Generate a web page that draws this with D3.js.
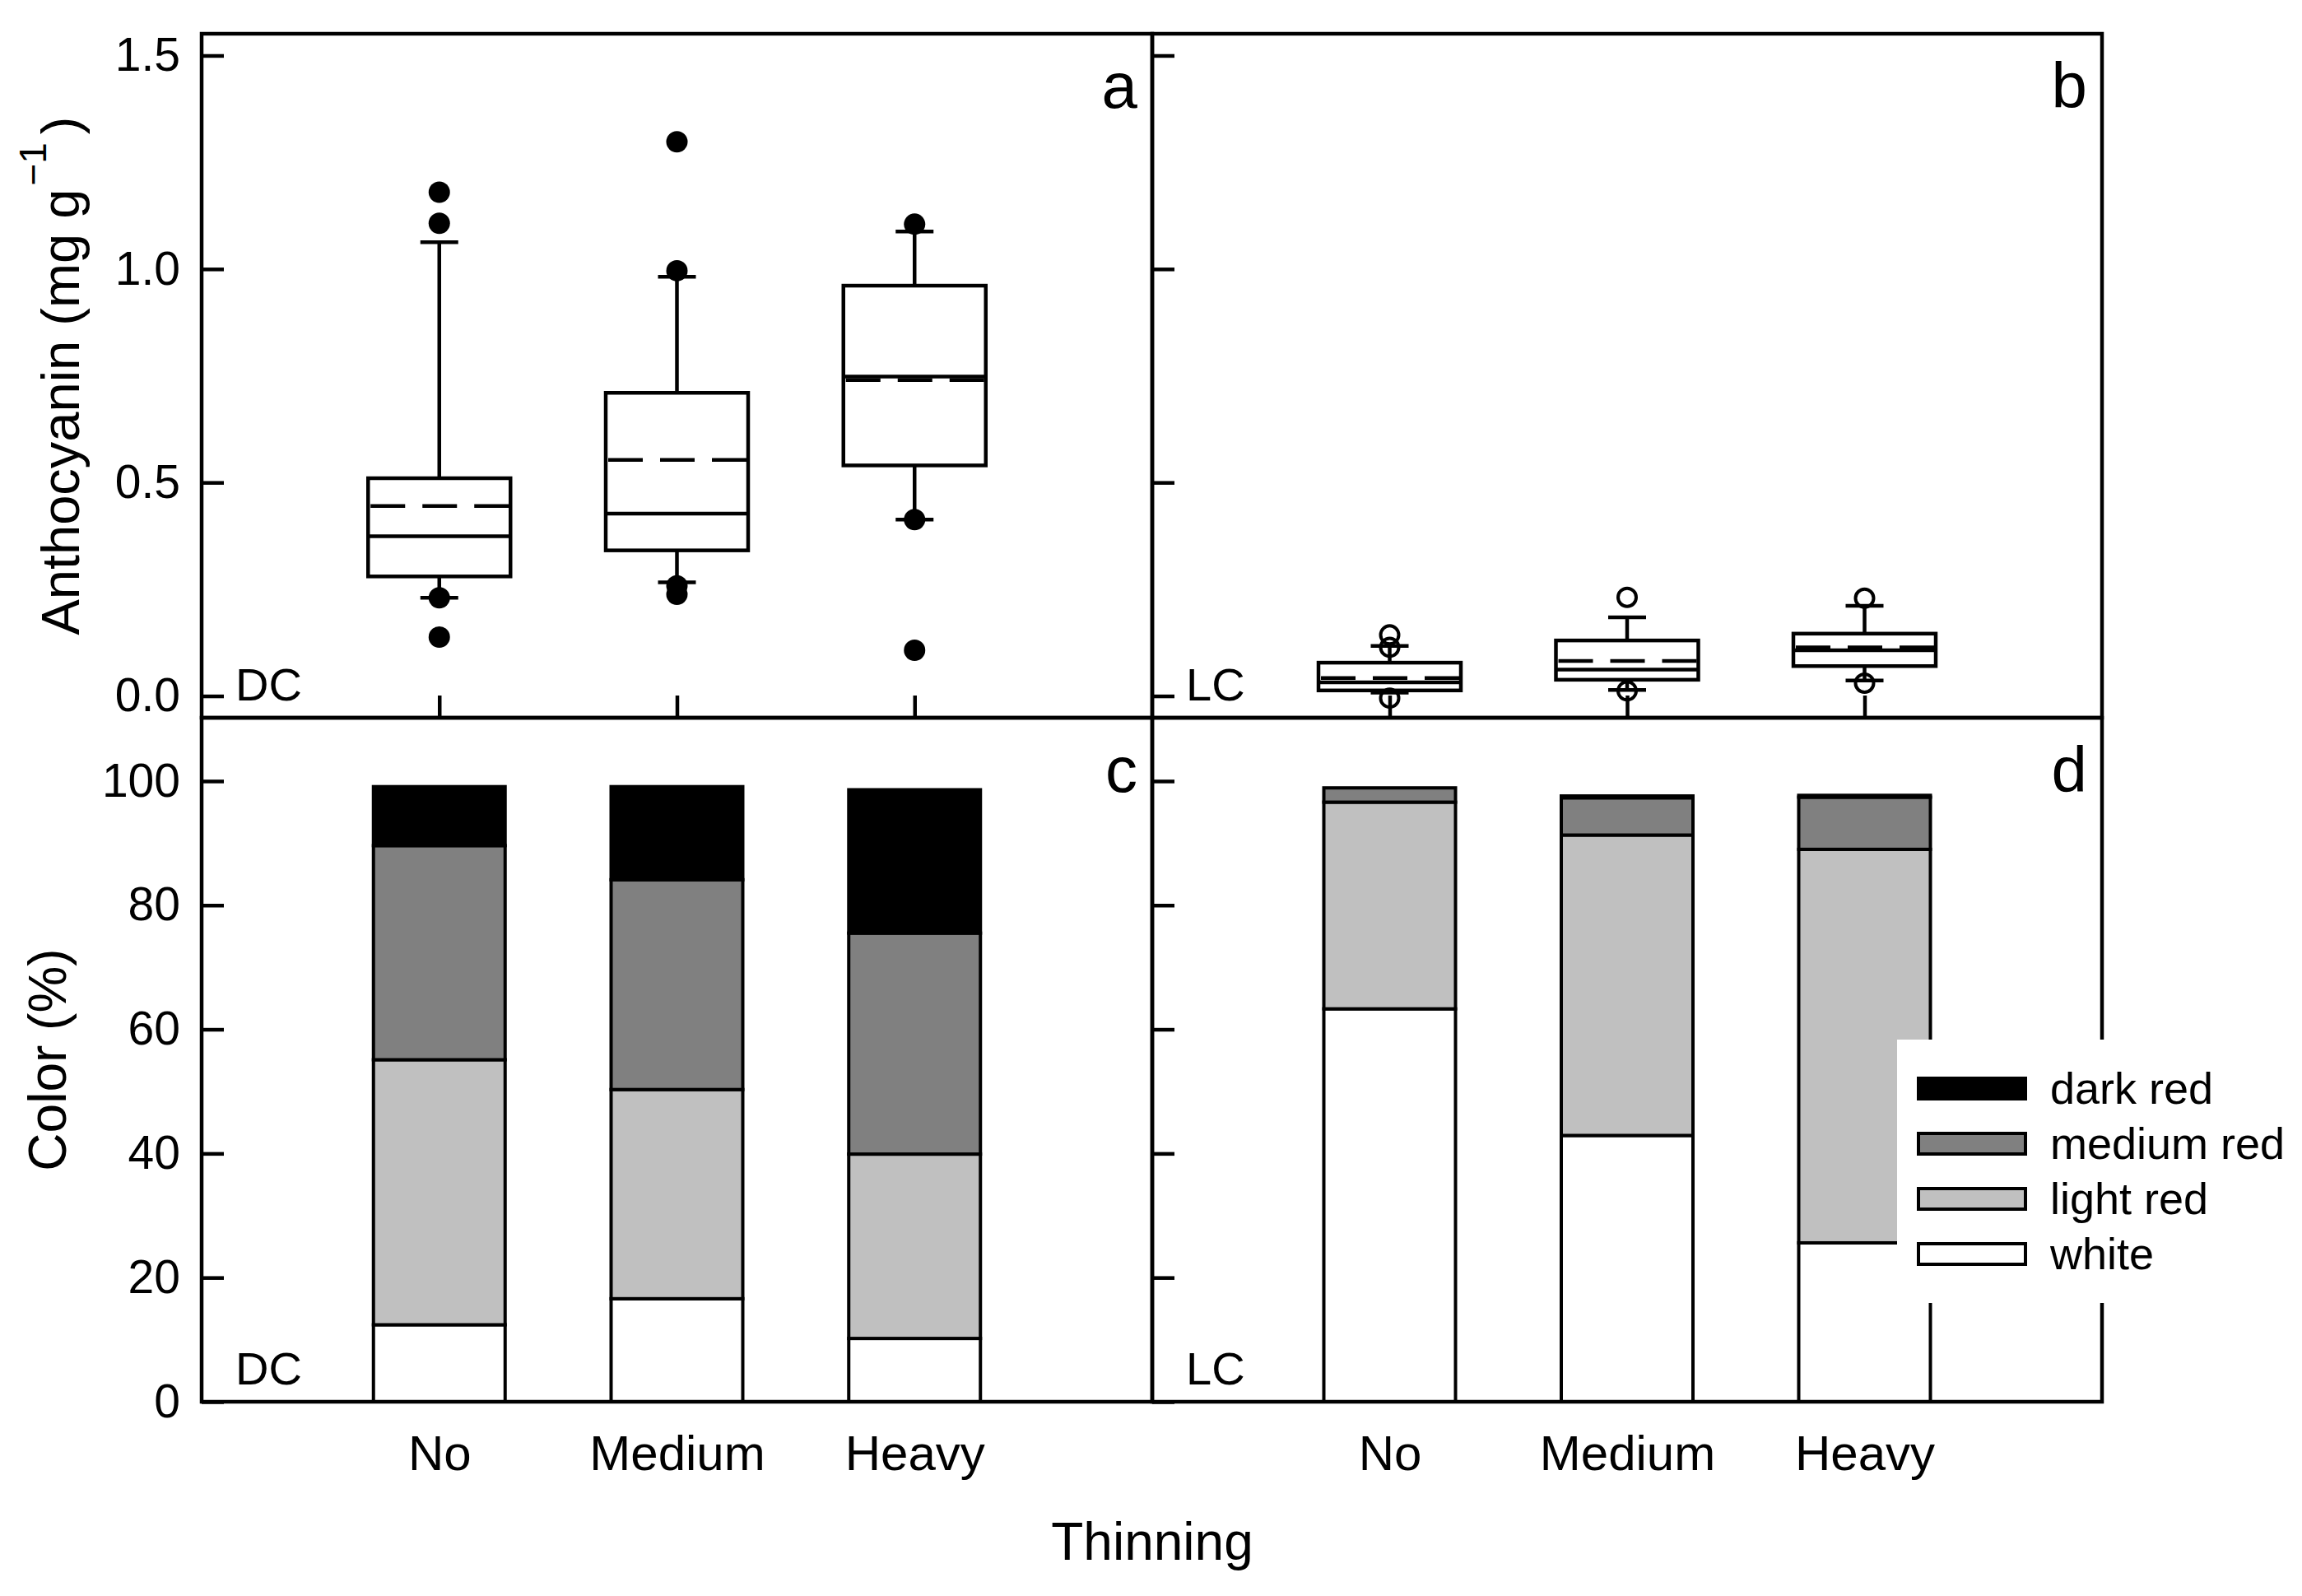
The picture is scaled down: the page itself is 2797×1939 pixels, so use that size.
<!DOCTYPE html>
<html>
<head>
<meta charset="utf-8">
<script src="https://cdn.jsdelivr.net/npm/d3@7"></script>
<style>
  body { margin: 0; background: #fff; }
  text { font-family: "Liberation Sans", Arial, sans-serif; fill: #000; }
</style>
</head>
<body>
<div id="chart"></div>
<script>
// categories
var thinning = ["No", "Medium", "Heavy"];
var colorKeys = ["white", "light red", "medium red", "dark red"];
var legendOrder = ["dark red", "medium red", "light red", "white"];

// anthocyanin boxes, DC
var dcLow = [0.230, 0.266, 0.413];
var dcQ1 = [0.280, 0.341, 0.540];
var dcMedian = [0.374, 0.427, 0.748];
var dcMean = [0.445, 0.553, 0.740];
var dcQ3 = [0.510, 0.710, 0.961];
var dcHigh = [1.063, 0.982, 1.088];
var dcOutliers = [[1.180, 1.107, 0.230, 0.138], [1.298, 0.996, 0.258, 0.238], [1.105, 0.413, 0.107]];

// anthocyanin boxes, LC
var lcLow = [0.008, 0.014, 0.036];
var lcQ1 = [0.013, 0.038, 0.070];
var lcMedian = [0.032, 0.062, 0.107];
var lcMean = [0.042, 0.082, 0.114];
var lcQ3 = [0.078, 0.130, 0.146];
var lcHigh = [0.117, 0.184, 0.211];
var lcOutliers = [[0.143, 0.114, -0.005], [0.231, 0.012], [0.229, 0.030]];

// colour classes (%)
var dcWhite = [12.4, 16.6, 10.2];
var dcLight = [42.7, 33.7, 29.7];
var dcMed = [34.5, 33.8, 35.6];
var dcDark = [9.5, 15.0, 23.1];
var lcWhite = [63.3, 42.9, 25.6];
var lcLight = [33.3, 48.4, 63.4];
var lcMed = [2.3, 6.0, 8.4];
var lcDark = [0, 0.3, 0.3];

var topTicks = [0, 0.5, 1.0, 1.5];
var botTicks = [0, 20, 40, 60, 80, 100];

var fills = {"white": "#ffffff", "light red": "#c0c0c0", "medium red": "#808080", "dark red": "#000000"};

var svgWidth = 2797, svgHeight = 1939;
var leftX = 245, midX = 1400, rightX = 2554;
var topY = 41, midY = 872, bottomY = 1703;
var tickLen = 27;

var svg = d3.select("#chart").append("svg")
  .attr("width", svgWidth)
  .attr("height", svgHeight);

var yTop = d3.scaleLinear().domain([-0.051, 1.551]).range([midY, topY]);
var yBot = d3.scaleLinear().domain([0, 110.2]).range([bottomY, midY]);
var xLeft = d3.scalePoint().domain(thinning).range([leftX, midX]).padding(1);
var xRight = d3.scalePoint().domain(thinning).range([midX, rightX]).padding(1);

function cleanAxis(g) {
  g.select(".domain").remove();
  g.selectAll(".tick line").attr("stroke", "#000").attr("stroke-width", 4.5);
  g.selectAll("text").style("font-family", "'Liberation Sans', Arial, sans-serif");
}

// y axes
svg.append("g").attr("transform", `translate(${leftX},0)`)
  .call(d3.axisLeft(yTop).tickValues(topTicks).tickFormat(d3.format(".1f")).tickSize(-tickLen).tickPadding(26))
  .call(cleanAxis).selectAll("text").attr("font-size", 57);
svg.append("g").attr("transform", `translate(${midX},0)`)
  .call(d3.axisLeft(yTop).tickValues(topTicks).tickFormat("").tickSize(-tickLen))
  .call(cleanAxis);
svg.append("g").attr("transform", `translate(${leftX},0)`)
  .call(d3.axisLeft(yBot).tickValues(botTicks).tickSize(-tickLen).tickPadding(26))
  .call(cleanAxis).selectAll("text").attr("font-size", 57);
svg.append("g").attr("transform", `translate(${midX},0)`)
  .call(d3.axisLeft(yBot).tickValues(botTicks).tickFormat("").tickSize(-tickLen))
  .call(cleanAxis);

// x axes
[xLeft, xRight].forEach(function(x) {
  svg.append("g").attr("transform", `translate(0,${midY})`)
    .call(d3.axisBottom(x).tickFormat("").tickSize(-tickLen))
    .call(cleanAxis);
  svg.append("g").attr("transform", `translate(0,${bottomY})`)
    .call(d3.axisBottom(x).tickSize(-tickLen).tickPadding(40))
    .call(cleanAxis).selectAll("text").attr("font-size", 60);
});

// box plots
function drawBoxes(x, low, q1, med, mean, q3, high, outliers, filled) {
  var boxW = 173, capW = 46;
  var g = svg.append("g").attr("stroke", "#000").attr("stroke-width", 4.5);
  thinning.forEach(function(t, i) {
    var cx = x(t);
    g.append("line").attr("x1", cx).attr("x2", cx).attr("y1", yTop(q3[i])).attr("y2", yTop(high[i]));
    g.append("line").attr("x1", cx).attr("x2", cx).attr("y1", yTop(q1[i])).attr("y2", yTop(low[i]));
    g.append("line").attr("x1", cx - capW / 2).attr("x2", cx + capW / 2).attr("y1", yTop(high[i])).attr("y2", yTop(high[i]));
    g.append("line").attr("x1", cx - capW / 2).attr("x2", cx + capW / 2).attr("y1", yTop(low[i])).attr("y2", yTop(low[i]));
    g.append("rect")
      .attr("x", cx - boxW / 2).attr("width", boxW)
      .attr("y", yTop(q3[i])).attr("height", yTop(q1[i]) - yTop(q3[i]))
      .attr("fill", "#fff");
    g.append("line").attr("x1", cx - boxW / 2).attr("x2", cx + boxW / 2).attr("y1", yTop(med[i])).attr("y2", yTop(med[i]));
    g.append("line").attr("x1", cx - boxW / 2 + 3).attr("x2", cx + boxW / 2).attr("y1", yTop(mean[i])).attr("y2", yTop(mean[i]))
      .attr("stroke-dasharray", "42,21");
    g.selectAll(null).data(outliers[i]).enter().append("circle")
      .attr("cx", cx).attr("cy", d => yTop(d))
      .attr("r", filled ? 13 : 11)
      .attr("fill", filled ? "#000" : "none")
      .attr("stroke-width", filled ? 0 : 4);
  });
}

drawBoxes(xLeft, dcLow, dcQ1, dcMedian, dcMean, dcQ3, dcHigh, dcOutliers, true);
drawBoxes(xRight, lcLow, lcQ1, lcMedian, lcMean, lcQ3, lcHigh, lcOutliers, false);

// stacked bars
function drawBars(x, white, light, medium, dark) {
  var rows = thinning.map(function(t, i) {
    return {t: t, "white": white[i], "light red": light[i], "medium red": medium[i], "dark red": dark[i]};
  });
  var series = d3.stack().keys(colorKeys)(rows);
  var barW = 160;
  svg.append("g").selectAll("g").data(series).enter().append("g")
    .attr("fill", d => fills[d.key])
    .selectAll("rect").data(d => d).enter().append("rect")
    .attr("x", d => x(d.data.t) - barW / 2)
    .attr("width", barW)
    .attr("y", d => yBot(d[1]))
    .attr("height", d => yBot(d[0]) - yBot(d[1]))
    .attr("stroke", "#000")
    .attr("stroke-width", 4);
}

drawBars(xLeft, dcWhite, dcLight, dcMed, dcDark);
drawBars(xRight, lcWhite, lcLight, lcMed, lcDark);

// panel frames
var frames = [[leftX, topY, midX, midY], [midX, topY, rightX, midY], [leftX, midY, midX, bottomY], [midX, midY, rightX, bottomY]];
svg.append("g").selectAll("rect").data(frames).enter().append("rect")
  .attr("x", d => d[0]).attr("y", d => d[1])
  .attr("width", d => d[2] - d[0]).attr("height", d => d[3] - d[1])
  .attr("fill", "none").attr("stroke", "#000").attr("stroke-width", 4.5);

// panel letters and site labels
var letters = ["a", "b", "c", "d"];
frames.forEach(function(f, i) {
  svg.append("text").attr("x", f[2] - 18).attr("y", f[1] + 90)
    .attr("text-anchor", "end").attr("font-size", 78).text(letters[i]);
  svg.append("text").attr("x", f[0] + 41).attr("y", f[3] - 21)
    .attr("font-size", 56).text(i % 2 === 0 ? "DC" : "LC");
});

// legend
var legend = svg.append("g");
legend.append("rect").attr("x", 2305).attr("y", 1263).attr("width", 492).attr("height", 320).attr("fill", "#fff");
legendOrder.forEach(function(k, i) {
  var cy = 1322 + i * 67;
  legend.append("rect").attr("x", 2331).attr("y", cy - 12).attr("width", 130).attr("height", 25)
    .attr("fill", fills[k]).attr("stroke", "#000").attr("stroke-width", 4);
  legend.append("text").attr("x", 2491).attr("y", cy).attr("dy", "0.36em")
    .attr("font-size", 54).text(k);
});

// axis titles
var yt = svg.append("text")
  .attr("transform", `translate(96,${(topY + midY) / 2}) rotate(-90)`)
  .attr("text-anchor", "middle").attr("font-size", 65);
yt.append("tspan").text("Anthocyanin (mg g");
yt.append("tspan").attr("font-size", 46).attr("dx", 4).attr("dy", -40).text("\u22121");
yt.append("tspan").attr("dx", 10).attr("dy", 40).text(")");

svg.append("text")
  .attr("transform", `translate(80,${(midY + bottomY) / 2}) rotate(-90)`)
  .attr("text-anchor", "middle").attr("font-size", 64).text("Color (%)");

svg.append("text").attr("x", midX).attr("y", 1895)
  .attr("text-anchor", "middle").attr("font-size", 64).text("Thinning");
</script>
</body>
</html>
